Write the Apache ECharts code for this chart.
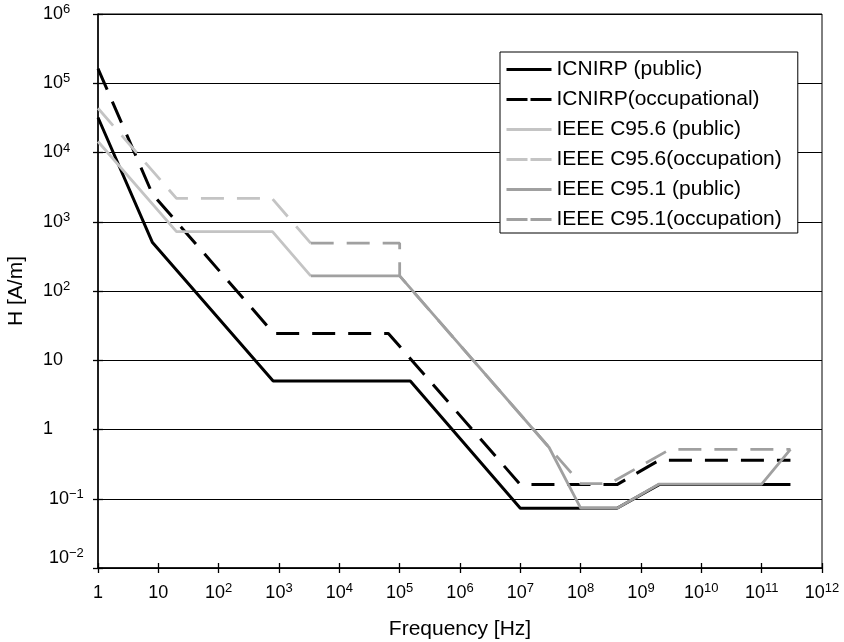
<!DOCTYPE html>
<html><head><meta charset="utf-8">
<script src="https://cdn.jsdelivr.net/npm/echarts@6/dist/echarts.min.js"></script>
<style>html,body{margin:0;padding:0;background:#fff}#c{width:844px;height:642px}</style>
</head><body><div id="c"></div>
<script>
const seriesNames = ['ICNIRP (public)', 'ICNIRP(occupational)', 'IEEE C95.6 (public)', 'IEEE C95.6(occupation)', 'IEEE C95.1 (public)', 'IEEE C95.1(occupation)'];
const icnirpPubF = [1, 8, 800, 1.5e5, 1e7, 4e8, 2e9, 3e11];
const icnirpPubH = [3.2e4, 500, 5, 5, 0.073, 0.073, 0.16, 0.16];
const icnirpOccF = [1, 8, 820, 6.5e4, 1e7, 4e8, 2e9, 3e11];
const icnirpOccH = [1.63e5, 2500, 24.4, 24.4, 0.16, 0.16, 0.36, 0.36];
const c956PubF = [1, 20, 780, 3350];
const c956PubH = [1.44e4, 720, 720, 165];
const c956OccF = [1, 20, 770, 3350];
const c956OccH = [4.35e4, 2170, 2170, 490];
const c951PubF = [3350, 1e5, 3e7, 1e8, 4e8, 2e9, 1e11, 3e11];
const c951PubH = [165, 165, 0.55, 0.073, 0.073, 0.163, 0.163, 0.515];
const c951OccF = [3350, 1e5, 1e5, 1e8, 3e8, 3e9, 3e11];
const c951OccH = [490, 490, 165, 0.165, 0.165, 0.515, 0.515];

const xTickLabels = ['1', '10', '10{s|2}', '10{s|3}', '10{s|4}', '10{s|5}', '10{s|6}', '10{s|7}', '10{s|8}', '10{s|9}', '10{s|10}', '10{s|11}', '10{s|12}'];
const yTickExpMin = -2;
const yTickLabels = ['{p|10}{s|\u22122}\n{e| }', '{p|10}{s|\u22121}', '1', '10', '10{s|2}', '10{s|3}', '10{s|4}', '10{s|5}', '10{s|6}'];

const FONT = "'Liberation Sans', Arial, Helvetica, sans-serif";
const zip = (f, h) => f.map((v, i) => [v, h[i]]);

const seriesStyles = [
  {color: '#000000', width: 3, type: 'solid'},
  {color: '#000000', width: 3, type: [23, 13]},
  {color: '#c4c4c4', width: 2.8, type: 'solid'},
  {color: '#c4c4c4', width: 2.8, type: [23, 13]},
  {color: '#a0a0a0', width: 2.8, type: 'solid'},
  {color: '#a0a0a0', width: 2.8, type: [23, 13]}
];
const seriesData = [
  zip(icnirpPubF, icnirpPubH), zip(icnirpOccF, icnirpOccH),
  zip(c956PubF, c956PubH), zip(c956OccF, c956OccH),
  zip(c951PubF, c951PubH), zip(c951OccF, c951OccH)
];

const rich = {
  s: {fontSize: 13, verticalAlign: 'top', fontFamily: FONT, color: '#000', lineHeight: 13},
  p: {fontSize: 18, fontFamily: FONT, color: '#000', padding: [0, 0, 0, 6], lineHeight: 22},
  e: {fontSize: 18, fontFamily: FONT, color: '#000', lineHeight: 20}
};

const baseLog = {type: 'log', logBase: 10, gridIndex: 0};

const option = {
  animation: false,
  backgroundColor: '#fff',
  grid: {left: 98, right: 22, top: 14, bottom: 74, show: true, borderColor: '#000', borderWidth: 1,
    backgroundColor: 'transparent', containLabel: false, outerBoundsMode: 'none'},
  xAxis: [
    Object.assign({}, baseLog, {
      min: 1, max: 1e12, interval: 1, splitNumber: 12, position: 'bottom',
      axisLine: {show: true, lineStyle: {color: '#000', width: 1.5}},
      axisTick: {show: true, length: 5, lineStyle: {color: '#000', width: 1.3}},
      axisLabel: {color: '#000', fontSize: 18, fontFamily: FONT, margin: 14, lineHeight: 22, rich: rich, hideOverlap: false,
        formatter: v => xTickLabels[Math.round(Math.log10(v))]},
      minorTick: {show: false},
      splitLine: {show: false},
      name: 'Frequency [Hz]', nameLocation: 'middle', nameGap: 51,
      nameTextStyle: {color: '#000', fontSize: 21, fontFamily: FONT}
    }),
    Object.assign({}, baseLog, {
      min: 1, max: 1e12, interval: 1, splitNumber: 12, position: 'bottom',
      axisLine: {show: false},
      axisTick: {show: true, inside: true, length: 5, lineStyle: {color: '#000', width: 1.3}},
      axisLabel: {show: false}, splitLine: {show: false}
    })
  ],
  yAxis: [
    Object.assign({}, baseLog, {
      min: 0.01, max: 1e6, interval: 1, splitNumber: 8, position: 'left',
      axisLine: {show: true, lineStyle: {color: '#000', width: 1.5}},
      axisTick: {show: true, length: 5, lineStyle: {color: '#000', width: 1.3}},
      axisLabel: {color: '#000', fontSize: 18, fontFamily: FONT, margin: 55, align: 'left', lineHeight: 22, rich: rich, hideOverlap: false,
        formatter: v => yTickLabels[Math.round(Math.log10(v)) - yTickExpMin]},
      splitLine: {show: true, lineStyle: {color: '#000', width: 1}},
      name: 'H [A/m]', nameLocation: 'middle', nameGap: 71,
      nameTextStyle: {color: '#000', fontSize: 21, fontFamily: FONT}
    }),
    Object.assign({}, baseLog, {
      min: 0.01, max: 1e6, interval: 1, splitNumber: 8, position: 'left',
      axisLine: {show: false},
      axisTick: {show: true, inside: true, length: 5, lineStyle: {color: '#000', width: 1.3}},
      axisLabel: {show: false}, splitLine: {show: false}
    })
  ],
  legend: {
    orient: 'vertical', left: 500, top: 52,
    itemWidth: 45, itemHeight: 14, itemGap: 9,
    backgroundColor: '#fff', borderColor: '#000', borderWidth: 1, borderRadius: 0,
    padding: [7, 16, 3, 5],
    itemStyle: {opacity: 0},
    textStyle: {color: '#000', fontSize: 21, fontFamily: FONT},
    data: seriesNames.map((n, i) => ({
      name: n,
      itemStyle: {opacity: 0},
      lineStyle: {type: seriesStyles[i].type === 'solid' ? 'solid' : [21, 3], width: 3}
    }))
  },
  series: seriesNames.map((n, i) => ({
    name: n, type: 'line', xAxisIndex: 0, yAxisIndex: 0,
    symbol: 'none', showSymbol: false,
    data: seriesData[i],
    itemStyle: {color: seriesStyles[i].color},
    lineStyle: {color: seriesStyles[i].color, width: seriesStyles[i].width, type: seriesStyles[i].type},
    z: 2 + i
  }))
};

const chart = echarts.init(document.getElementById('c'), null, {renderer: 'canvas'});
chart.setOption(option);
</script>
</body></html>
